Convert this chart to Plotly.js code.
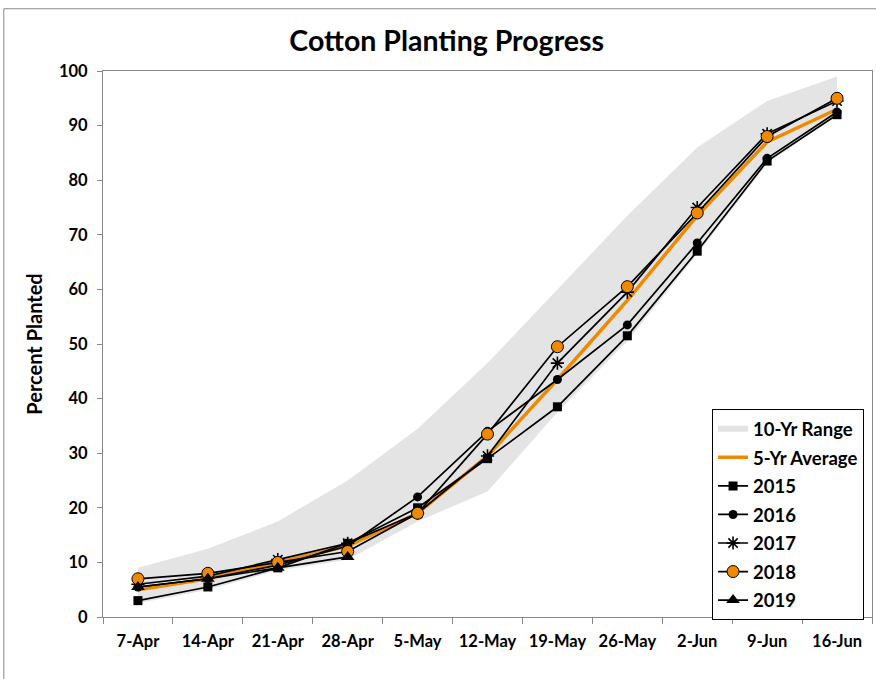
<!DOCTYPE html>
<html>
<head>
<meta charset="utf-8">
<script src="https://cdn.plot.ly/plotly-3.0.1.min.js"></script>
<style>
html,body{margin:0;padding:0;background:#fff;}
#chart{width:876px;height:679px;}
</style>
</head>
<body>
<div id="chart"></div>
<script>
var weeks = ["7-Apr","14-Apr","21-Apr","28-Apr","5-May","12-May","19-May","26-May","2-Jun","9-Jun","16-Jun"];
var rangeLow  = [2.5, 5, 8.5, 10.5, 17.5, 23, 37.5, 50.5, 66.5, 83, 92];
var rangeHigh = [9, 12.5, 17.5, 25, 34.5, 46.5, 60, 73.5, 86, 94.5, 99];
var avg5  = [5, 7, 10, 13, 19, 29.5, 43.5, 58, 73.5, 87, 93];
var y2015 = [3, 5.5, 9, 13.5, 20, 29, 38.5, 51.5, 67, 83.5, 92];
var y2016 = [5.5, 7, 9.5, 13, 22, 34, 43.5, 53.5, 68.5, 84, 92.5];
var y2017 = [6, 7.5, 10.5, 13.5, 19, 29.5, 46.5, 59.5, 75, 88.5, 94.5];
var y2018 = [7, 8, 10, 12, 19, 33.5, 49.5, 60.5, 74, 88, 95];
var y2019 = [5.5, 7, 9, 11];

var FONT = "Lato, 'Open Sans', sans-serif";
var ORANGE = "#EF8A00";

var traces = [
  {x: weeks, y: rangeLow, type: "scatter", mode: "lines", line: {width: 0, color: "rgba(0,0,0,0)"},
   showlegend: false, hoverinfo: "skip", legendgroup: "g0"},
  {x: weeks, y: rangeHigh, type: "scatter", mode: "none", fill: "tonexty", fillcolor: "#E4E4E4",
   name: "10-Yr Range", legendgroup: "g1"},
  {x: weeks, y: avg5, type: "scatter", mode: "lines", line: {color: ORANGE, width: 3.5},
   name: "5-Yr Average", legendgroup: "g2"},
  {x: weeks, y: y2015, type: "scatter", mode: "lines+markers", line: {color: "#000", width: 1.7},
   marker: {symbol: "square", size: 9, color: "#000"}, name: "2015", legendgroup: "g3"},
  {x: weeks, y: y2016, type: "scatter", mode: "lines+markers", line: {color: "#000", width: 1.7},
   marker: {symbol: "circle", size: 9, color: "#000"}, name: "2016", legendgroup: "g4"},
  {x: weeks, y: y2017, type: "scatter", mode: "lines+markers", line: {color: "#000", width: 1.7},
   marker: {symbol: "asterisk-open", size: 11, color: "#000", line: {color: "#000", width: 1.6}}, name: "2017", legendgroup: "g5"},
  {x: weeks, y: y2018, type: "scatter", mode: "lines+markers", line: {color: "#000", width: 1.7},
   marker: {symbol: "circle", size: 12, color: ORANGE, line: {color: "#000", width: 1}}, name: "2018", legendgroup: "g6"},
  {x: weeks.slice(0, y2019.length), y: y2019, type: "scatter", mode: "lines+markers", line: {color: "#000", width: 1.7},
   marker: {symbol: "triangle-up", size: 12, color: "#000"}, name: "2019", legendgroup: "g7"}
];

var layout = {
  width: 876, height: 679,
  margin: {l: 103, r: 4, t: 71, b: 62},
  paper_bgcolor: "#fff", plot_bgcolor: "#fff",
  font: {family: FONT, color: "#000"},
  title: {text: "<b>Cotton Planting Progress</b>", font: {family: FONT, size: 28.5, color: "#000"},
          x: 0.51, xanchor: "center", y: 0.94, yanchor: "middle"},
  xaxis: {type: "category", range: [-0.5, 10.5], tickson: "boundaries", ticks: "outside", ticklen: 6,
          tickcolor: "#888", showline: true, linecolor: "#888", linewidth: 1, mirror: true,
          showgrid: false, zeroline: false, fixedrange: true, ticklabelstandoff: 9,
          tickfont: {family: FONT, size: 16.5, color: "#000", weight: "bold"}},
  yaxis: {range: [0, 100], dtick: 10, ticks: "outside", ticklen: 5, tickcolor: "#888",
          showline: true, linecolor: "#888", linewidth: 1, mirror: true, showgrid: false, zeroline: false,
          ticklabelstandoff: 6,
          tickfont: {family: FONT, size: 16.5, color: "#000", weight: "bold"},
          title: {text: "<b>Percent Planted</b>", font: {family: FONT, size: 20, color: "#000"}, standoff: 10}},
  legend: {x: 0.792, y: -0.006, xanchor: "left", yanchor: "bottom", bgcolor: "#fff",
           bordercolor: "#000", borderwidth: 1, traceorder: "grouped", tracegroupgap: 1.5,
           itemwidth: 30, font: {family: FONT, size: 18.5, color: "#000", weight: "bold"}},
  shapes: [
    {type: "line", xref: "paper", yref: "paper", x0: -0.129, x1: -0.129, y0: -0.2, y1: 1.114,
     line: {color: "#888", width: 1}},
    {type: "line", xref: "paper", yref: "paper", x0: -0.129, x1: 1.1, y0: 1.114, y1: 1.114,
     line: {color: "#888", width: 1}}
  ],
  showlegend: true
};

Plotly.newPlot("chart", traces, layout, {displayModeBar: false, staticPlot: true});
</script>
</body>
</html>
